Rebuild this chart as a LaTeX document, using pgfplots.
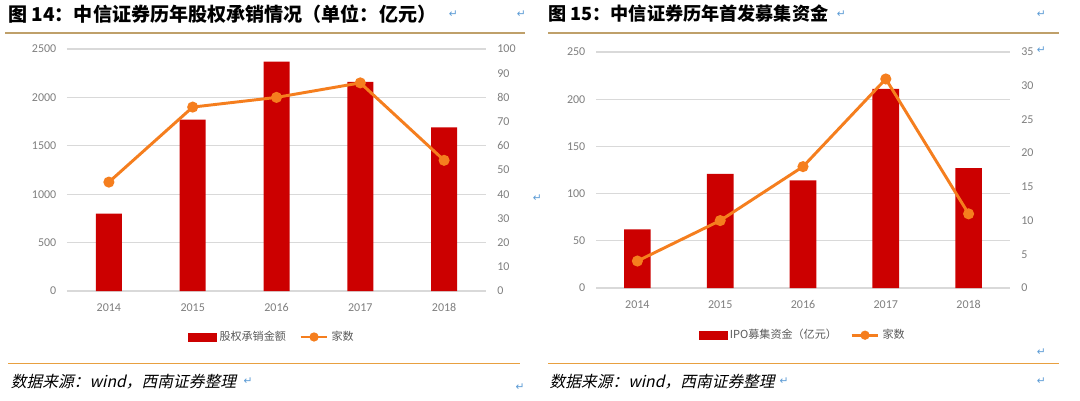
\documentclass[border=0pt]{standalone}
\usepackage{fontspec}
\usepackage{pgfplots}
\pgfplotsset{compat=1.18}
\setmainfont{Carlito}
\newfontfamily\cjk{Noto Sans CJK SC}
\newfontfamily\cjksl{Noto Sans CJK SC}[FakeSlant=0.22]
\newfontfamily\dv{DejaVu Sans}

\definecolor{barred}{HTML}{CC0000}
\definecolor{lineor}{HTML}{F57E1E}
\definecolor{gridc}{HTML}{D9D9D9}
\definecolor{tickc}{HTML}{7F7F7F}
\definecolor{legc}{HTML}{595959}
\definecolor{goldl}{HTML}{BFA06A}
\definecolor{srcl}{HTML}{E8A040}
\definecolor{retc}{HTML}{5B9BD5}

\pgfplotsset{
  base/.style={
    scale only axis,
    xmin=-0.5, xmax=4.5,
    axis line style={draw=none},
    major tick length=0pt,
    tick label style={font=\fontsize{9}{10}\selectfont, text=tickc},
    /pgf/number format/assume math mode=true,
    /pgf/number format/1000 sep={},
  },
  barax/.style={
    base,
    axis y line*=left,
    xtick={0,1,2,3,4},
    xticklabels={2014,2015,2016,2017,2018},
    xticklabel style={yshift=-6pt},
    yticklabel style={xshift=-4.5pt},
    ymajorgrids,
    grid style={gridc, line width=0.9pt},
  },
  lineax/.style={
    base,
    axis y line*=right,
    xtick=\empty,
    yticklabel style={xshift=5pt},
    legend columns=2,
    legend style={draw=none, fill=none, font=\cjk\fontsize{8.3}{10}\selectfont,
      text=legc, /tikz/every even column/.append style={column sep=8pt}},
  },
  barimg/.style={legend image code/.code={\fill[barred] (0pt,-3pt) rectangle (21pt,3pt);}},
  lineimg/.style={legend image code/.code={
    \draw[lineor, line width=2.2pt] (0pt,0pt) -- (20pt,0pt);
    \fill[lineor] (10pt,0pt) circle (2.3pt);}},
}

\begin{document}
\begin{tikzpicture}
\fill[white] (0,0) rectangle (810pt,300pt);

% headers
\node[anchor=west, inner sep=0pt] at (6pt,289.5pt)
  {\cjk\bfseries\fontsize{14.3}{16}\selectfont 图 14：中信证券历年股权承销情况（单位：亿元）};
\node[anchor=west, inner sep=0pt] at (411pt,289.5pt)
  {\cjk\bfseries\fontsize{13.6}{16}\selectfont 图 15：中信证券历年首发募集资金};
\draw[goldl, line width=1.4pt] (4pt,275.5pt) -- (394pt,275.5pt);
\draw[goldl, line width=1.4pt] (411pt,275.5pt) -- (794pt,275.5pt);

% footers
\draw[srcl, line width=1pt] (6pt,27.5pt) -- (390pt,27.5pt);
\draw[srcl, line width=1pt] (411pt,27.5pt) -- (794pt,27.5pt);
\node[anchor=west, inner sep=0pt] at (8pt,14pt)
  {\cjksl\fontsize{11.8}{13}\selectfont 数据来源：wind，西南证券整理};
\node[anchor=west, inner sep=0pt] at (412pt,14pt)
  {\cjksl\fontsize{11.8}{13}\selectfont 数据来源：wind，西南证券整理};

% paragraph marks
\begin{scope}[every node/.style={text=retc, inner sep=0pt, font=\dv\fontsize{8}{8}\selectfont}]
\node at (340pt,289.5pt) {↵};
\node at (391pt,289.5pt) {↵};
\node at (631pt,289.5pt) {↵};
\node at (781pt,289.5pt) {↵};
\node at (781pt,262.5pt) {↵};
\node at (403pt,151.5pt) {↵};
\node at (781pt,36pt) {↵};
\node at (186pt,14pt) {↵};
\node at (588pt,14pt) {↵};
\node at (390pt,10pt) {↵};
\node at (781pt,14pt) {↵};
\end{scope}

% ---------- left chart ----------
\begin{axis}[barax, at={(50.25pt,81.75pt)}, anchor=south west,
  width=314.25pt, height=181.5pt,
  ymin=0, ymax=2500, ytick={0,500,...,2500}]
  \addplot[ybar, bar width=19.5pt, fill=barred, draw=none]
    coordinates {(0,800) (1,1770) (2,2370) (3,2160) (4,1690)};
\end{axis}
\begin{axis}[lineax, at={(50.25pt,81.75pt)}, anchor=south west,
  width=314.25pt, height=181.5pt,
  ymin=0, ymax=100, ytick={0,10,...,100},
  legend style={at={(0.49,-0.19)}, anchor=center}]
  \addlegendimage{barimg}
  \addlegendentry{股权承销金额}
  \addplot[lineor, line width=2.2pt, mark=*, mark size=3pt, mark options={fill=lineor, draw=lineor}, lineimg]
    coordinates {(0,45) (1,76) (2,80) (3,86) (4,54)};
  \addlegendentry{家数}
\end{axis}

% ---------- right chart ----------
\begin{axis}[barax, at={(447pt,84pt)}, anchor=south west,
  width=310.5pt, height=177pt,
  ymin=0, ymax=250, ytick={0,50,...,250}]
  \addplot[ybar, bar width=20pt, fill=barred, draw=none]
    coordinates {(0,62) (1,121) (2,114) (3,211) (4,127)};
\end{axis}
\begin{axis}[lineax, at={(447pt,84pt)}, anchor=south west,
  width=310.5pt, height=177pt,
  ymin=0, ymax=35, ytick={0,5,...,35},
  legend style={at={(0.5,-0.2)}, anchor=center}]
  \addlegendimage{barimg}
  \addlegendentry{IPO募集资金（亿元）}
  \addplot[lineor, line width=2.2pt, mark=*, mark size=3pt, mark options={fill=lineor, draw=lineor}, lineimg]
    coordinates {(0,4) (1,10) (2,18) (3,31) (4,11)};
  \addlegendentry{家数}
\end{axis}
\end{tikzpicture}
\end{document}
